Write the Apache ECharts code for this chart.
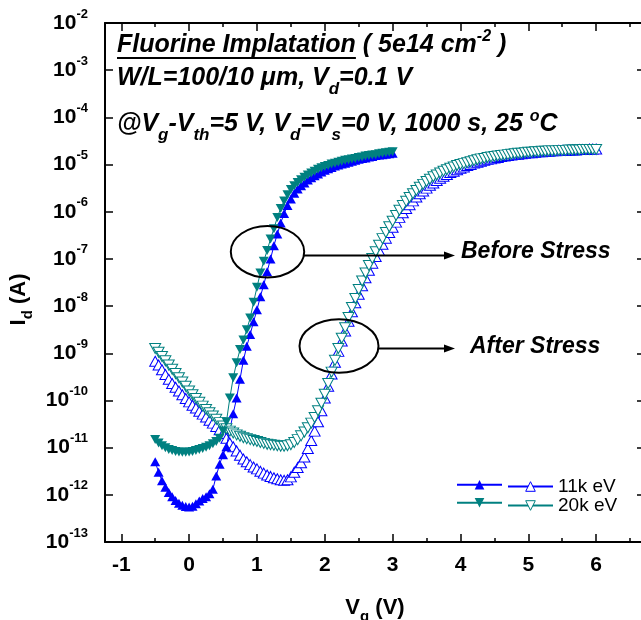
<!DOCTYPE html>
<html><head><meta charset="utf-8">
<script src="https://cdn.jsdelivr.net/npm/echarts@6/dist/echarts.min.js"></script>
<style>html,body{margin:0;padding:0;background:#fff}#c{width:641px;height:620px}</style>
</head><body><div id="c"></div>
<script>
// Gate voltage sweeps (V)
const vgBefore = [-0.5,-0.45,-0.4,-0.35,-0.3,-0.25,-0.2,-0.15,-0.1,-0.05,0,0.05,0.1,0.15,0.2,0.25,0.3,0.35,0.4,0.45,0.5,0.55,0.6,0.65,0.7,0.75,0.8,0.85,0.9,0.95,1,1.05,1.1,1.15,1.2,1.25,1.3,1.35,1.4,1.45,1.5,1.55,1.6,1.65,1.7,1.75,1.8,1.85,1.9,1.95,2,2.05,2.1,2.15,2.2,2.25,2.3,2.35,2.4,2.45,2.5,2.55,2.6,2.65,2.7,2.75,2.8,2.85,2.9,2.95,3];
const vgAfter = [-0.5,-0.45,-0.4,-0.35,-0.3,-0.25,-0.2,-0.15,-0.1,-0.05,0,0.05,0.1,0.15,0.2,0.25,0.3,0.35,0.4,0.45,0.5,0.55,0.6,0.65,0.7,0.75,0.8,0.85,0.9,0.95,1,1.05,1.1,1.15,1.2,1.25,1.3,1.35,1.4,1.45,1.5,1.55,1.6,1.65,1.7,1.75,1.8,1.85,1.9,1.95,2,2.05,2.1,2.15,2.2,2.25,2.3,2.35,2.4,2.45,2.5,2.55,2.6,2.65,2.7,2.75,2.8,2.85,2.9,2.95,3,3.05,3.1,3.15,3.2,3.25,3.3,3.35,3.4,3.45,3.5,3.55,3.6,3.65,3.7,3.75,3.8,3.85,3.9,3.95,4,4.05,4.1,4.15,4.2,4.25,4.3,4.35,4.4,4.45,4.5,4.55,4.6,4.65,4.7,4.75,4.8,4.85,4.9,4.95,5,5.05,5.1,5.15,5.2,5.25,5.3,5.35,5.4,5.45,5.5,5.55,5.6,5.65,5.7,5.75,5.8,5.85,5.9,5.95,6];

// log10 of drain current Id (A)
const log10Id_11k_before = [-11.30,-11.52,-11.70,-11.84,-11.95,-12.04,-12.12,-12.18,-12.22,-12.25,
 -12.26,-12.24,-12.19,-12.13,-12.08,-12.04,-11.98,-11.88,-11.60,-11.35,
 -11.15,-10.98,-10.62,-10.28,-9.95,-9.55,-9.15,-8.85,-8.60,-8.33,
 -8.08,-7.80,-7.55,-7.27,-7.00,-6.72,-6.47,-6.24,-6.04,-5.87,
 -5.73,-5.61,-5.52,-5.45,-5.39,-5.33,-5.28,-5.24,-5.20,-5.16,
 -5.12,-5.09,-5.06,-5.03,-5.01,-4.99,-4.97,-4.95,-4.93,-4.91,
 -4.89,-4.87,-4.86,-4.84,-4.83,-4.81,-4.80,-4.79,-4.78,-4.77,
 -4.76];
const log10Id_20k_before = [-10.83,-10.90,-10.96,-11.00,-11.04,-11.06,-11.08,-11.09,-11.10,-11.10,
 -11.09,-11.08,-11.06,-11.04,-11.02,-10.99,-10.96,-10.92,-10.87,-10.80,
 -10.65,-10.45,-9.95,-9.52,-9.20,-8.92,-8.72,-8.50,-8.25,-7.92,
 -7.60,-7.30,-7.05,-6.82,-6.58,-6.36,-6.12,-5.93,-5.77,-5.64,
 -5.53,-5.45,-5.38,-5.32,-5.27,-5.22,-5.18,-5.14,-5.10,-5.07,
 -5.04,-5.02,-4.99,-4.97,-4.95,-4.93,-4.91,-4.90,-4.88,-4.87,
 -4.85,-4.84,-4.82,-4.81,-4.80,-4.79,-4.77,-4.76,-4.75,-4.74,
 -4.73];
const log10Id_11k_after = [-9.17,-9.25,-9.35,-9.45,-9.55,-9.64,-9.72,-9.80,-9.88,-9.96,
 -10.03,-10.10,-10.16,-10.23,-10.29,-10.35,-10.42,-10.48,-10.55,-10.62,
 -10.70,-10.80,-10.90,-10.98,-11.07,-11.16,-11.24,-11.30,-11.36,-11.41,
 -11.45,-11.50,-11.54,-11.58,-11.61,-11.64,-11.66,-11.68,-11.69,-11.68,
 -11.62,-11.52,-11.42,-11.32,-11.20,-11.02,-10.85,-10.65,-10.45,-10.22,
 -9.95,-9.70,-9.44,-9.19,-8.96,-8.74,-8.53,-8.32,-8.12,-7.93,
 -7.75,-7.57,-7.40,-7.24,-7.09,-6.95,-6.82,-6.69,-6.56,-6.44,
 -6.33,-6.22,-6.12,-6.02,-5.93,-5.85,-5.77,-5.69,-5.62,-5.56,
 -5.50,-5.44,-5.39,-5.34,-5.29,-5.25,-5.21,-5.17,-5.14,-5.11,
 -5.08,-5.05,-5.02,-5.00,-4.97,-4.95,-4.93,-4.91,-4.89,-4.88,
 -4.86,-4.85,-4.83,-4.82,-4.81,-4.80,-4.79,-4.78,-4.77,-4.76,
 -4.75,-4.75,-4.74,-4.73,-4.73,-4.72,-4.72,-4.71,-4.71,-4.70,
 -4.70,-4.70,-4.69,-4.69,-4.69,-4.68,-4.68,-4.68,-4.67,-4.67,
 -4.67];
const log10Id_20k_after = [-8.90,-8.98,-9.07,-9.16,-9.25,-9.34,-9.43,-9.52,-9.61,-9.70,
 -9.80,-9.88,-9.96,-10.04,-10.12,-10.19,-10.26,-10.33,-10.40,-10.47,
 -10.54,-10.60,-10.65,-10.69,-10.73,-10.76,-10.79,-10.81,-10.83,-10.85,
 -10.87,-10.89,-10.91,-10.93,-10.94,-10.95,-10.96,-10.97,-10.97,-10.96,
 -10.94,-10.89,-10.83,-10.75,-10.67,-10.58,-10.48,-10.36,-10.22,-10.06,
 -9.87,-9.64,-9.40,-9.15,-8.90,-8.68,-8.46,-8.24,-8.03,-7.84,
 -7.65,-7.47,-7.30,-7.14,-6.99,-6.85,-6.71,-6.57,-6.44,-6.32,
 -6.20,-6.08,-5.97,-5.87,-5.78,-5.70,-5.62,-5.55,-5.48,-5.42,
 -5.36,-5.31,-5.26,-5.22,-5.18,-5.14,-5.11,-5.08,-5.05,-5.02,
 -5.00,-4.98,-4.96,-4.94,-4.92,-4.90,-4.88,-4.87,-4.85,-4.84,
 -4.83,-4.82,-4.81,-4.80,-4.79,-4.78,-4.77,-4.76,-4.76,-4.75,
 -4.74,-4.74,-4.73,-4.73,-4.72,-4.72,-4.71,-4.71,-4.71,-4.70,
 -4.70,-4.70,-4.69,-4.69,-4.69,-4.69,-4.68,-4.68,-4.68,-4.68,
 -4.68];

// Axis ticks
const xMajorTicks = [-1,0,1,2,3,4,5,6];
const xMinorTicks = [-0.5,0.5,1.5,2.5,3.5,4.5,5.5,6.5];
const xRange = [-1.24, 6.72];
const yDecadeRange = [-13, -2];   // axis spans 10^-13 .. 10^-2 A, one tick per decade

// Legend / series names
const seriesNames = ['11k eV (before stress)', '20k eV (before stress)', '11k eV', '20k eV'];

const FONT = 'Arial, "Liberation Sans", sans-serif';
const BLUE = '#0000ff', TEAL = '#008080';

function pairs(xs, logs) { return xs.map((x, i) => [x, logs[i]]); }

function measure(text, font) {
  const c = document.createElement('canvas').getContext('2d');
  c.font = font; return c.measureText(text).width;
}

const chart = echarts.init(document.getElementById('c'), null, {renderer: 'canvas'});

const axLine = {show: true, onZero: false, lineStyle: {color: '#000', width: 2}};
function xAx(pos, major, extra) {
  return Object.assign({
    type: 'value', position: pos, min: xRange[0], max: xRange[1],
    axisLine: major ? axLine : {show: false},
    axisTick: {show: true, inside: true, length: major ? 8 : 4, lineStyle: {color: '#000', width: 1.5},
               customValues: major ? xMajorTicks : xMinorTicks},
    axisLabel: {show: false}, splitLine: {show: false}
  }, extra || {});
}
function yAx(pos, extra) {
  return Object.assign({
    type: 'value', position: pos, min: yDecadeRange[0], max: yDecadeRange[1], interval: 1,
    axisLine: axLine,
    axisTick: {show: true, inside: true, length: 8, lineStyle: {color: '#000', width: 1.5}},
    axisLabel: {show: false}, splitLine: {show: false}
  }, extra || {});
}

const bigRich = (size) => ({
  n: {fontSize: size, fontWeight: 'bold', fontStyle: 'italic', fontFamily: FONT, color: '#000', verticalAlign: 'middle'},
  s: {fontSize: Math.round(size * 0.68), fontWeight: 'bold', fontStyle: 'italic', fontFamily: FONT, color: '#000', verticalAlign: 'middle', padding: [22, 0, 0, 0]},
  p: {fontSize: Math.round(size * 0.62), fontWeight: 'bold', fontStyle: 'italic', fontFamily: FONT, color: '#000', verticalAlign: 'middle', padding: [0, 0, 16, 0]}
});

const HF = 25;
const line1a = 'Fluorine Implatation';
const uW = measure(line1a, 'italic bold ' + HF + 'px ' + FONT);

function headerText(x, y, text) {
  return {type: 'text', x: x, y: y, z: 100,
    style: {text: text, rich: bigRich(HF), fill: '#000', align: 'left', verticalAlign: 'middle',
            font: 'italic bold ' + HF + 'px ' + FONT}};
}
function plainBig(x, y, text) {
  return {type: 'text', x: x, y: y, z: 100,
    style: {text: text, fill: '#000', align: 'left', verticalAlign: 'middle',
            font: 'italic bold 23px ' + FONT}};
}
function arrow(x1, x2, y) {
  return [
    {type: 'line', z: 100, shape: {x1: x1, y1: y, x2: x2 - 8, y2: y}, style: {stroke: '#000', lineWidth: 2}},
    {type: 'polygon', z: 100, shape: {points: [[x2, y], [x2 - 11, y - 4], [x2 - 11, y + 4]]}, style: {fill: '#000'}}
  ];
}

const option = {
  animation: false,
  backgroundColor: '#fff',
  grid: {left: 105, top: 23, right: -4, bottom: 78, containLabel: false, outerBoundsMode: 'none'},
  xAxis: [
    xAx('bottom', true, {
      axisLabel: {show: true, customValues: xMajorTicks, margin: 13, fontSize: 21, fontWeight: 'bold', color: '#000', fontFamily: FONT},
      name: '{a|V}{b|g}{a| (V)}', nameLocation: 'middle', nameGap: 49,
      nameTextStyle: {rich: {
        a: {fontSize: 22, fontWeight: 'bold', fontFamily: FONT, color: '#000', verticalAlign: 'middle'},
        b: {fontSize: 15, fontWeight: 'bold', fontFamily: FONT, color: '#000', verticalAlign: 'middle', padding: [18, 0, 0, 0]}
      }}
    }),
    xAx('bottom', false),
    xAx('top', true),
    xAx('top', false)
  ],
  yAxis: [
    yAx('left', {
      axisLabel: {show: true, margin: 17, color: '#000',
        formatter: v => '{a|10}{b|' + v + '}',
        rich: {
          a: {fontSize: 21, fontWeight: 'bold', fontFamily: FONT, color: '#000', verticalAlign: 'middle'},
          b: {fontSize: 13, fontWeight: 'bold', fontFamily: FONT, color: '#000', verticalAlign: 'middle', padding: [0, 0, 18, 0]}
        }},
      name: '{a|I}{b|d}{a| (A)}', nameLocation: 'middle', nameGap: 61, nameRotate: 90,
      nameTextStyle: {padding: [0, 34, 0, 0], rich: {
        a: {fontSize: 22, fontWeight: 'bold', fontFamily: FONT, color: '#000', verticalAlign: 'middle'},
        b: {fontSize: 15, fontWeight: 'bold', fontFamily: FONT, color: '#000', verticalAlign: 'middle', padding: [18, 0, 0, 0]}
      }}
    }),
    yAx('right')
  ],
  legend: [
    {orient: 'vertical', left: 456, top: 480, padding: 0, itemWidth: 45, itemHeight: 12, itemGap: 8.4,
     data: [seriesNames[0], seriesNames[1]], formatter: () => '', selectedMode: false,
     textStyle: {fontSize: 1, lineHeight: 1}},
    {orient: 'vertical', left: 507, top: 477, padding: 0, itemWidth: 45, itemHeight: 12, itemGap: 0,
     data: [seriesNames[2], seriesNames[3]], selectedMode: false,
     itemStyle: {borderWidth: 1},
     textStyle: {fontSize: 19, lineHeight: 18, fontFamily: FONT, color: '#000'}}
  ],
  series: [
    {name: seriesNames[2], type: 'line', data: pairs(vgAfter, log10Id_11k_after),
     symbol: 'triangle', symbolSize: [11, 10], showAllSymbol: true,
     itemStyle: {color: '#fff', borderColor: BLUE, borderWidth: 1}, lineStyle: {color: BLUE, width: 1}, z: 2},
    {name: seriesNames[0], type: 'line', data: pairs(vgBefore, log10Id_11k_before),
     symbol: 'triangle', symbolSize: [10, 9], showAllSymbol: true,
     itemStyle: {color: BLUE}, lineStyle: {color: BLUE, width: 1}, z: 3},
    {name: seriesNames[3], type: 'line', data: pairs(vgAfter, log10Id_20k_after),
     symbol: 'triangle', symbolRotate: 180, symbolSize: [11, 10], showAllSymbol: true,
     itemStyle: {color: '#fff', borderColor: TEAL, borderWidth: 1}, lineStyle: {color: TEAL, width: 1}, z: 4},
    {name: seriesNames[1], type: 'line', data: pairs(vgBefore, log10Id_20k_before),
     symbol: 'triangle', symbolRotate: 180, symbolSize: [10, 9], showAllSymbol: true,
     itemStyle: {color: TEAL}, lineStyle: {color: TEAL, width: 1}, z: 5}
  ],
  graphic: [
    headerText(117, 45, '{n|' + line1a + ' ( 5e14 cm}{p|-2}{n| )}'),
    {type: 'line', z: 100, shape: {x1: 117, y1: 58, x2: 117 + uW, y2: 58}, style: {stroke: '#000', lineWidth: 2}},
    headerText(117, 78.5, '{n|W/L=100/10 μm, V}{s|d}{n|=0.1 V}'),
    headerText(117, 124.5, '{n|@V}{s|g}{n|-V}{s|th}{n|=5 V, V}{s|d}{n|=V}{s|s}{n|=0 V, 1000 s, 25 }{p|o}{n|C}'),
    {type: 'ellipse', z: 100, shape: {cx: 267.5, cy: 251.7, rx: 36.7, ry: 25.7}, style: {fill: 'none', stroke: '#000', lineWidth: 2}},
    {type: 'ellipse', z: 100, shape: {cx: 339, cy: 346, rx: 39.5, ry: 26.7}, style: {fill: 'none', stroke: '#000', lineWidth: 2}},
    ...arrow(304, 455, 255.5),
    ...arrow(378.5, 455, 348.5),
    plainBig(461, 252, 'Before Stress'),
    plainBig(470, 347, 'After Stress')
  ]
};
chart.setOption(option);
</script>
</body></html>
